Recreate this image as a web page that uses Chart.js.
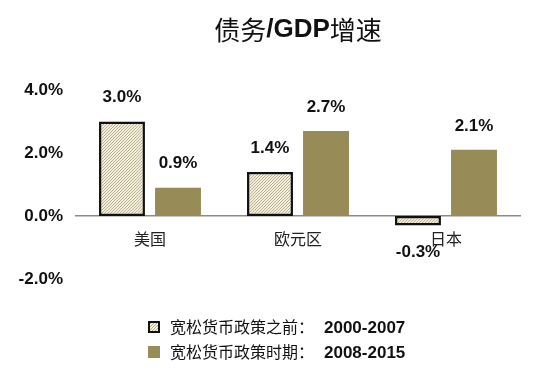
<!DOCTYPE html>
<html>
<head>
<meta charset="utf-8">
<script src="https://cdn.jsdelivr.net/npm/chart.js@4"></script>
<style>
  html, body { margin: 0; padding: 0; background: #fff; }
  #wrap { width: 550px; height: 383px; position: relative; }
</style>
</head>
<body>
<div id="wrap"><canvas id="debtChart"></canvas></div>
<script>
const titleParts = ['债务', '/GDP', '增速'];
const regions = ['美国', '欧元区', '日本'];
const seriesNames = ['宽松货币政策之前：', '宽松货币政策时期：'];
const seriesYears = ['2000-2007', '2008-2015'];
const beforeQE = [3.0, 1.4, -0.3];
const duringQE = [0.9, 2.7, 2.1];
const yTicks = [-2, 0, 2, 4];

const OLIVE = '#978c57';
const CJK = '"Noto Sans CJK SC", "Noto Sans", sans-serif';
const LATIN = '"Liberation Sans", Arial, Helvetica, sans-serif';

// beige hatch fill for the pre-QE bars
function makeHatch() {
  const c = document.createElement('canvas');
  c.width = 3;
  c.height = 3;
  const g = c.getContext('2d');
  g.fillStyle = '#f3efe0';
  g.fillRect(0, 0, 3, 3);
  g.strokeStyle = '#b3a97e';
  g.lineWidth = 0.9;
  g.beginPath();
  g.moveTo(0, 3); g.lineTo(3, 0);
  g.moveTo(-1, 1); g.lineTo(1, -1);
  g.moveTo(2, 4); g.lineTo(4, 2);
  g.stroke();
  return g.createPattern(c, 'repeat');
}
const hatch = makeHatch();

const valueLabels = {
  id: 'valueLabels',
  afterDatasetsDraw(chart) {
    const ctx = chart.ctx;
    ctx.save();
    ctx.font = 'bold 17px ' + LATIN;
    ctx.fillStyle = '#111';
    ctx.textAlign = 'center';
    ctx.textBaseline = 'middle';
    chart.data.datasets.forEach((ds, i) => {
      chart.getDatasetMeta(i).data.forEach((bar, j) => {
        const v = ds.data[j];
        const y = v >= 0 ? bar.y - 24 : bar.y + 27;
        ctx.fillText(v.toFixed(1) + '%', bar.x, y);
      });
    });
    ctx.restore();
  },
};

const titleAndLegend = {
  id: 'titleAndLegend',
  afterDraw(chart) {
    const ctx = chart.ctx;
    ctx.save();
    ctx.textBaseline = 'middle';
    ctx.fillStyle = '#111';

    // title: CJK regular + bold latin
    const fonts = ['26px ' + CJK, 'bold 26px ' + LATIN, '26px ' + CJK];
    let total = 0;
    const widths = titleParts.map((t, i) => {
      ctx.font = fonts[i];
      const w = ctx.measureText(t).width;
      total += w;
      return w;
    });
    let x = 298 - total / 2;
    titleParts.forEach((t, i) => {
      ctx.font = fonts[i];
      ctx.textAlign = 'left';
      ctx.fillText(t, x, 30);
      x += widths[i];
    });

    // legend
    const rows = [327, 352];
    chart.data.datasets.forEach((ds, i) => {
      const y = rows[i];
      if (i === 0) {
        ctx.fillStyle = hatch;
        ctx.fillRect(149, y - 5, 10, 10);
        ctx.strokeStyle = '#111';
        ctx.lineWidth = 2;
        ctx.strokeRect(149, y - 5, 10, 10);
      } else {
        ctx.fillStyle = OLIVE;
        ctx.fillRect(148, y - 6, 12, 12);
      }
      ctx.fillStyle = '#111';
      ctx.font = '16px ' + CJK;
      ctx.fillText(seriesNames[i], 170, y);
      const w = ctx.measureText(seriesNames[i]).width;
      ctx.font = 'bold 17px ' + LATIN;
      ctx.fillText(seriesYears[i], 170 + w + 10, y + 1);
    });
    ctx.restore();
  },
};

new Chart(document.getElementById('debtChart'), {
  type: 'bar',
  data: {
    labels: regions,
    datasets: [
      {
        label: seriesNames[0] + seriesYears[0],
        data: beforeQE,
        backgroundColor: hatch,
        borderColor: '#111',
        borderWidth: 2.5,
        borderSkipped: false,
        barPercentage: 0.82,
        categoryPercentage: 0.757,
      },
      {
        label: seriesNames[1] + seriesYears[1],
        data: duringQE,
        backgroundColor: OLIVE,
        borderWidth: 0,
        barPercentage: 0.82,
        categoryPercentage: 0.757,
      },
    ],
  },
  options: {
    responsive: true,
    maintainAspectRatio: false,
    animation: false,
    layout: { padding: { top: 90, bottom: 104, right: 30, left: 0 } },
    plugins: {
      legend: { display: false },
      title: { display: false },
      tooltip: { enabled: false },
    },
    scales: {
      x: {
        position: { y: 0 },
        grid: { display: false, drawTicks: false },
        border: { display: true, color: '#8a8a8a', width: 1.5 },
        ticks: { color: '#222', font: { family: CJK, size: 16 }, padding: 13 },
      },
      y: {
        min: -2,
        max: 4,
        afterFit(scale) { scale.width = 76; },
        afterBuildTicks(scale) { scale.ticks = yTicks.map((v) => ({ value: v })); },
        grid: { display: false, drawTicks: false },
        border: { display: false },
        ticks: {
          color: '#111',
          padding: 13,
          font: { family: LATIN, size: 17, weight: 'bold' },
          callback(v) { return v.toFixed(1) + '%'; },
        },
      },
    },
  },
  plugins: [valueLabels, titleAndLegend],
});
</script>
</body>
</html>
